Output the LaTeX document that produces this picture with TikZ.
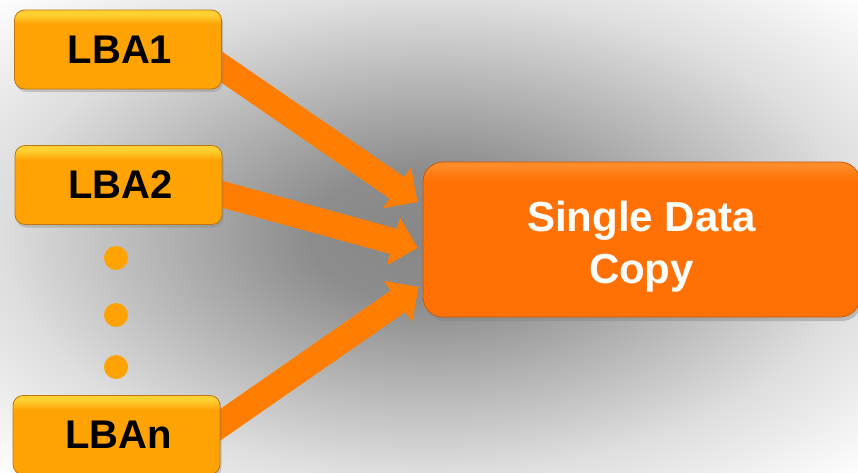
\documentclass[tikz,border=0pt]{standalone}
\usepackage{fontspec}
\setmainfont{Liberation Sans}
\usepackage{tikz}
\usetikzlibrary{arrows.meta,positioning,shadows}
\definecolor{lbaOrange}{RGB}{255,163,5}
\definecolor{lbaOrangeLight}{RGB}{255,208,50}
\definecolor{lbaOrangeEdge}{RGB}{190,118,20}
\definecolor{copyOrange}{RGB}{255,113,4}
\definecolor{copyOrangeLight}{RGB}{255,140,40}
\definecolor{copyOrangeEdge}{RGB}{200,90,10}
\definecolor{flowOrange}{RGB}{255,125,0}
\pgfdeclareradialshading{bgglow}{\pgfpoint{0bp}{0bp}}{color(0bp)=(black!47); color(7bp)=(black!45); color(25bp)=(black!13); color(36bp)=(white); color(50bp)=(white)}
\pgfdeclareverticalshading{lbashade}{100bp}{color(0bp)=(lbaOrange); color(66bp)=(lbaOrange); color(72bp)=(lbaOrangeLight); color(100bp)=(lbaOrangeLight)}
\pgfdeclareverticalshading{copyshade}{100bp}{color(0bp)=(copyOrange); color(69bp)=(copyOrange); color(74bp)=(copyOrangeLight); color(100bp)=(copyOrangeLight)}
\pgfdeclarelayer{bg}
\pgfdeclarelayer{mid}
\pgfsetlayers{bg,mid,main}

\begin{document}
\begin{tikzpicture}[x=1pt,y=-1pt,
  lbabox/.style={shade, shading=lbashade, draw=lbaOrangeEdge, line width=0.8pt,
    rounded corners=10pt, minimum width=207pt, minimum height=79pt,
    font=\fontsize{40}{48}\selectfont\bfseries, text=black,
    drop shadow={shadow xshift=1.5pt, shadow yshift=-3pt, opacity=0.35}},
  copybox/.style={shade, shading=copyshade, draw=copyOrangeEdge, line width=0.8pt,
    rounded corners=20pt, minimum width=437pt, minimum height=155pt,
    drop shadow={shadow xshift=2pt, shadow yshift=-4pt, opacity=0.4}},
  copytext/.style={font=\fontsize{42}{52}\selectfont\bfseries, text=white,
    align=center, yshift=-7pt},
  dotmark/.style={circle, fill=lbaOrange, inner sep=0pt, minimum size=24pt},
  flow/.style={flowOrange, line width=26pt, -{Triangle[length=25pt, width=48pt]}}]
\useasboundingbox (0,0) rectangle (858,472);
\begin{pgfonlayer}{bg}
\shade[shading=bgglow] (0,0) rectangle (858,472);
\end{pgfonlayer}

\node[lbabox] (lba1) at (118,49.5) {\hspace{4pt}LBA1};
\node[lbabox] (lba2) at (118.5,185) {\hspace{4pt}LBA2};
\node[lbabox] (lban) at (116.5,435) {\hspace{4pt}LBAn};
\node[copybox, label={[copytext]center:Single Data\\Copy}] (copy) at (641.5,239.5) {};

% dots between LBA2 and LBAn
\foreach \y [count=\i] in {258,315,367}
  \node[dotmark] (dot\i) at (116,\y) {};

\begin{pgfonlayer}{mid}
\draw[flow] ([xshift=-12pt,yshift=-9.5pt]lba1.east) -- ([xshift=-5pt,yshift=37.5pt]copy.west);
\draw[flow] ([xshift=-12pt,yshift=-6pt]lba2.east) -- ([xshift=-5pt,yshift=-8.5pt]copy.west);
\draw[flow] ([xshift=-12pt,yshift=2pt]lban.east) -- ([xshift=-4pt,yshift=-47.5pt]copy.west);
\end{pgfonlayer}
\end{tikzpicture}
\end{document}
